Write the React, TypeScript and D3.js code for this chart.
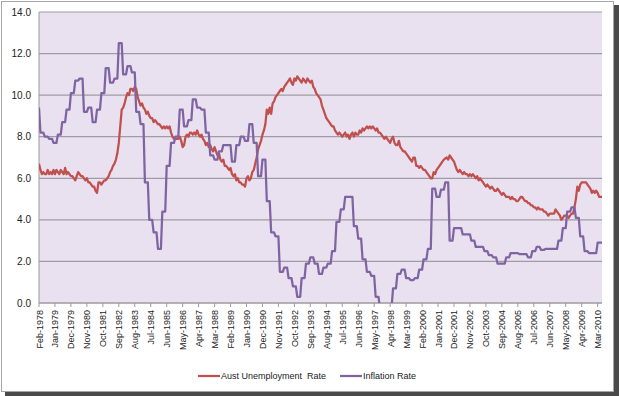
import React from 'react'
import * as d3 from 'd3'

// monthly unemployment rate, Feb-1978 .. Jun-2010 (one row per year)
const unemployment = [
  6.7, 6.4, 6.2, 6.3, 6.2, 6.2, 6.4, 6.2, 6.3, 6.2, 6.4,
  6.2, 6.4, 6.3, 6.2, 6.4, 6.3, 6.2, 6.5, 6.2, 6.3, 6.2, 6.1,
  6.1, 6.0, 5.9, 6.1, 6.3, 6.2, 6.1, 6.1, 6.0, 5.9, 6.0, 5.8,
  5.8, 5.7, 5.6, 5.6, 5.4, 5.3, 5.8, 5.8, 5.7, 5.8, 5.9, 5.9,
  6.0, 6.1, 6.3, 6.4, 6.6, 6.7, 6.9, 7.2, 7.7, 8.5, 9.3, 9.4,
  9.6, 9.9, 10.1, 10.0, 10.3, 10.3, 10.2, 10.4, 10.3, 9.9, 9.7, 9.5,
  9.6, 9.4, 9.3, 9.1, 9.2, 9.0, 8.9, 8.9, 8.7, 8.8, 8.7, 8.6,
  8.6, 8.5, 8.4, 8.5, 8.4, 8.5, 8.4, 8.5, 8.2, 8.0, 7.9, 7.9,
  7.9, 7.9, 8.0, 7.8, 7.5, 7.6, 8.0, 8.1, 8.0, 8.2, 8.2, 8.1,
  8.2, 8.1, 8.3, 8.1, 8.0, 8.1, 7.9, 7.8, 7.6, 7.7, 7.5, 7.6,
  7.4, 7.3, 7.5, 7.3, 7.1, 7.2, 6.9, 6.8, 6.9, 6.6, 6.6, 6.5,
  6.4, 6.5, 6.2, 6.1, 6.2, 5.9, 6.0, 5.8, 5.8, 5.7, 5.7, 5.6,
  6.0, 6.1, 5.9, 6.0, 6.3, 6.4, 6.7, 7.0, 7.4, 7.6, 7.8, 8.1,
  8.3, 8.6, 9.3, 9.1, 9.4, 9.1, 9.6, 9.7, 9.9, 10.0, 10.1, 10.2,
  10.3, 10.2, 10.4, 10.5, 10.6, 10.7, 10.8, 10.6, 10.5, 10.8, 10.7, 10.9,
  10.8, 10.7, 10.6, 10.8, 10.7, 10.6, 10.8, 10.7, 10.6, 10.7, 10.4, 10.3,
  10.1, 10.0, 9.9, 9.8, 9.5, 9.3, 9.1, 8.9, 8.8, 8.7, 8.6, 8.5,
  8.5, 8.3, 8.2, 8.1, 8.2, 8.1, 8.0, 8.1, 8.2, 8.0, 8.1, 7.9,
  8.1, 8.2, 8.0, 8.2, 8.1, 8.1, 8.3, 8.2, 8.4, 8.3, 8.4, 8.5,
  8.4, 8.5, 8.4, 8.5, 8.4, 8.3, 8.4, 8.2, 8.2, 8.1, 8.0, 7.9,
  8.0, 7.9, 7.8, 7.7, 7.9, 8.0, 7.7, 7.6, 7.6, 7.8, 7.5, 7.4,
  7.3, 7.3, 7.2, 7.1, 7.0, 6.9, 6.8, 7.0, 7.0, 6.6, 6.6, 6.5,
  6.6, 6.5, 6.4, 6.4, 6.3, 6.2, 6.1, 6.0, 6.0, 6.3, 6.2, 6.4,
  6.5, 6.6, 6.7, 6.8, 6.9, 6.95, 7.0, 6.9, 7.1, 7.0, 6.9, 6.8,
  6.6, 6.4, 6.3, 6.4, 6.3, 6.2, 6.3, 6.2, 6.2, 6.1, 6.2, 6.1,
  6.2, 6.1, 6.0, 6.1, 5.9, 6.0, 5.9, 5.8, 5.7, 5.6, 5.7, 5.6,
  5.5, 5.6, 5.5, 5.4, 5.4, 5.5, 5.4, 5.3, 5.2, 5.3, 5.2, 5.1,
  5.1, 5.1, 5.0, 5.1, 5.0, 5.0, 4.9, 4.9, 5.0, 5.1, 5.1, 5.0,
  4.9, 4.9, 4.8, 4.8, 4.7, 4.7, 4.6, 4.6, 4.5, 4.6, 4.5, 4.5,
  4.5, 4.4, 4.4, 4.3, 4.2, 4.3, 4.3, 4.3, 4.3, 4.5, 4.4, 4.3,
  4.2, 4.0, 4.1, 4.2, 4.2, 4.2, 4.1, 4.2, 4.3, 4.3, 4.6, 5.0,
  5.6, 5.4, 5.7, 5.8, 5.8, 5.8, 5.8, 5.7, 5.6, 5.5, 5.3, 5.4,
  5.3, 5.4, 5.3, 5.1, 5.1, 5.1,
]

// year-ended CPI inflation, one value per quarter (Dec-1977 .. Jun-2010)
const inflationQuarterly = [
  9.4,
  8.2, 8.0, 7.9, 7.7,
  8.1, 8.7, 9.3, 10.1,
  10.7, 10.8, 9.2, 9.4,
  8.7, 9.3, 10.1, 11.3,
  10.6, 10.8, 12.5, 11.0,
  11.4, 11.1, 9.2, 8.6,
  5.8, 4.0, 3.4, 2.6,
  4.4, 6.6, 7.7, 8.0,
  9.3, 8.5, 8.8, 9.8,
  9.4, 9.3, 8.2, 7.1,
  6.9, 7.3, 7.6, 7.6,
  6.8, 7.6, 8.0, 7.8,
  8.6, 7.7, 6.1, 6.9,
  4.9, 3.4, 3.2, 1.5,
  1.7, 1.2, 0.8, 0.3,
  1.2, 1.9, 2.2, 1.9,
  1.4, 1.7, 1.9, 2.5,
  3.9, 4.5, 5.1, 5.1,
  3.7, 3.1, 2.1, 1.5,
  1.3, 0.3, -0.3, -0.2,
  -0.2, 0.7, 1.4, 1.6,
  1.2, 1.1, 1.2, 1.6,
  2.1, 2.6, 5.5, 5.1,
  5.45, 5.8, 3.0, 3.6,
  3.6, 3.3, 3.3, 3.0,
  2.7, 2.7, 2.5, 2.3,
  2.2, 1.9, 1.9, 2.2,
  2.4, 2.4, 2.35, 2.35,
  2.2, 2.5, 2.7, 2.55,
  2.6, 2.6, 2.6, 3.0,
  3.6, 4.4, 4.6, 4.1,
  3.2, 2.5, 2.4, 2.4,
  2.9, 2.9,
]

const yTicks = [0, 2, 4, 6, 8, 10, 12, 14]
const seriesNames = ['Aust Unemployment  Rate', 'Inflation Rate']
const colors = ['#C0504D', '#8064A2']

const months = d3.timeMonth.range(new Date(1978, 1, 1), new Date(2010, 6, 1))
const fmt = d3.timeFormat('%b-%Y')
// each quarterly figure is shown for its own month and the two after it
const inflation = months.map((_, i) => inflationQuarterly[Math.floor((i + 2) / 3)])
const tickIdx = d3.range(0, months.length, 11)

const left = 39, right = 602, top = 12, bottom = 303

export default function App() {
  const x = d3.scalePoint<number>().domain(d3.range(months.length)).range([left, right])
  const y = d3.scaleLinear().domain([0, 14]).range([bottom, top])
  const line = d3.line<number>().x((_, i) => x(i)!).y(d => y(d))
  const font = "'Liberation Sans', Arial, sans-serif"

  return (
    <svg width={619} height={396} style={{ position: 'absolute', left: 0, top: 0 }} fontFamily={font}>
      <defs>
        <clipPath id="plotClip">
          <rect x={left} y={top - 3} width={right - left + 2} height={bottom - top + 3} />
        </clipPath>
      </defs>
      {/* frame with shadow */}
      <rect x={5} y={5} width={614} height={391} fill="#4a4a4a" />
      <rect x={1.5} y={1.5} width={612} height={390} fill="#fff" stroke="#A6A6A6" />

      {/* plot area */}
      <rect x={left} y={top} width={right - left} height={bottom - top} fill="#E9E0F0" />
      {yTicks.map(t => (
        <g key={t}>
          <line x1={left} x2={right} y1={y(t)} y2={y(t)} stroke="#A09CA6" strokeWidth={1.2} />
          <text x={31} y={y(t) + 3.5} textAnchor="end" fontSize={10} fill="#222">{t.toFixed(1)}</text>
        </g>
      ))}
      <line x1={left} x2={left} y1={top} y2={bottom} stroke="#9A9A9A" />
      <line x1={left} x2={right} y1={bottom} y2={bottom} stroke="#9A9A9A" />

      {tickIdx.map(i => (
        <g key={i}>
          <line x1={x(i)} x2={x(i)} y1={bottom} y2={bottom + 4} stroke="#9A9A9A" />
          <text transform={`translate(${x(i)! + 3.5},${bottom + 7}) rotate(-90)`} textAnchor="end" fontSize={9} fill="#222">
            {fmt(months[i])}
          </text>
        </g>
      ))}

      <g clipPath="url(#plotClip)" fill="none" strokeWidth={2.25} strokeLinejoin="round">
        <path d={line(unemployment)!} stroke={colors[0]} />
        <path d={line(inflation)!} stroke={colors[1]} />
      </g>

      {/* legend */}
      <g fontSize={9} fill="#222">
        <line x1={198} x2={220} y1={376} y2={376} stroke={colors[0]} strokeWidth={2.25} />
        <text x={221} y={379} style={{ whiteSpace: 'pre' }}>{seriesNames[0]}</text>
        <line x1={340} x2={362} y1={376} y2={376} stroke={colors[1]} strokeWidth={2.25} />
        <text x={363} y={379}>{seriesNames[1]}</text>
      </g>
    </svg>
  )
}
